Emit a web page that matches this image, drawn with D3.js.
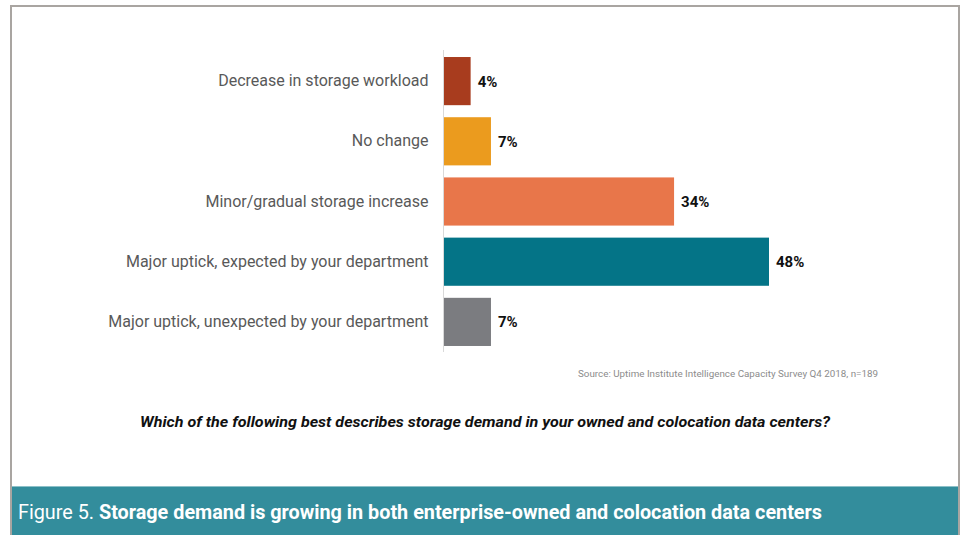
<!DOCTYPE html>
<html>
<head>
<meta charset="utf-8">
<script src="https://cdn.jsdelivr.net/npm/d3@7"></script>
<style>
  html, body { margin: 0; padding: 0; background: #ffffff; }
  svg { display: block; }
</style>
</head>
<body>
<svg id="chart" width="962" height="535"></svg>
<script>
// Survey answers, shares (%) and bar colours
const categories = [
  "Decrease in storage workload",
  "No change",
  "Minor/gradual storage increase",
  "Major uptick, expected by your department",
  "Major uptick, unexpected by your department"
];
const values = [4, 7, 34, 48, 7];
const colors = ["#a83c1e", "#eb9b1e", "#e8764a", "#047487", "#7b7c80"];

const sourceText = "Source: Uptime Institute Intelligence Capacity Survey Q4 2018, n=189";
const questionText = "Which of the following best describes storage demand in your owned and colocation data centers?";
const figureLabel = "Figure 5. ";
const figureTitle = "Storage demand is growing in both enterprise-owned and colocation data centers";

const svg = d3.select("#chart");

// Outer frame
svg.append("rect")
  .attr("x", 11).attr("y", 6)
  .attr("width", 948).attr("height", 540)
  .attr("fill", "#ffffff")
  .attr("stroke", "#a9a5a1").attr("stroke-width", 2);

// Plot area
const x0 = 443.5;
const x = d3.scaleLinear().domain([0, 48]).range([x0, 769]);
const y = d3.scaleBand().domain(categories).range([51, 352]).paddingInner(0.2).paddingOuter(0.1);

const g = svg.append("g");

// bars
g.selectAll("rect.bar")
  .data(categories)
  .join("rect")
  .attr("class", "bar")
  .attr("x", x(0))
  .attr("y", d => y(d))
  .attr("width", (d, i) => x(values[i]) - x(0))
  .attr("height", y.bandwidth())
  .attr("fill", (d, i) => colors[i]);

// baseline axis
const yAxis = d3.axisLeft(y).tickSize(0).tickPadding(15);
const axisG = g.append("g")
  .attr("transform", `translate(${x0},0)`)
  .call(yAxis);
axisG.select(".domain")
  .attr("stroke", "#d9d9d9")
  .attr("stroke-width", 1)
  .attr("d", "M0,50V352");
axisG.selectAll(".tick text")
  .attr("font-family", "Roboto, sans-serif")
  .attr("font-size", 16)
  .attr("fill", "#595959");

// value labels
g.selectAll("text.val")
  .data(categories)
  .join("text")
  .attr("class", "val")
  .attr("x", (d, i) => x(values[i]) + 7)
  .attr("y", d => y(d) + y.bandwidth() / 2)
  .attr("dy", "0.36em")
  .attr("font-family", "Roboto, sans-serif")
  .attr("font-weight", 700)
  .attr("font-size", 15)
  .attr("fill", "#111111")
  .text((d, i) => values[i] + "%");

// source note
svg.append("text")
  .attr("x", 878).attr("y", 377)
  .attr("text-anchor", "end")
  .attr("font-family", "Roboto, sans-serif")
  .attr("font-size", 9.5)
  .attr("fill", "#8c8c8c")
  .attr("textLength", 300)
  .attr("lengthAdjust", "spacingAndGlyphs")
  .text(sourceText);

// question
svg.append("text")
  .attr("x", 485).attr("y", 427)
  .attr("text-anchor", "middle")
  .attr("font-family", "Roboto, sans-serif")
  .attr("font-size", 14)
  .attr("font-weight", 700)
  .attr("font-style", "italic")
  .attr("fill", "#111111")
  .attr("textLength", 690)
  .attr("lengthAdjust", "spacingAndGlyphs")
  .text(questionText);

// footer banner
svg.append("rect")
  .attr("x", 12).attr("y", 486)
  .attr("width", 946).attr("height", 49)
  .attr("fill", "#338d9c");
svg.append("line")
  .attr("x1", 12).attr("x2", 958)
  .attr("y1", 486.5).attr("y2", 486.5)
  .attr("stroke", "#8cc0c8").attr("stroke-width", 1);

const title = svg.append("text")
  .attr("x", 18).attr("y", 519)
  .attr("font-family", "Roboto, sans-serif")
  .attr("font-size", 20)
  .attr("fill", "#ffffff")
  .attr("textLength", 804)
  .attr("lengthAdjust", "spacingAndGlyphs");
title.append("tspan").attr("font-weight", 400).text(figureLabel);
title.append("tspan").attr("font-weight", 700).text(figureTitle);
</script>
</body>
</html>
